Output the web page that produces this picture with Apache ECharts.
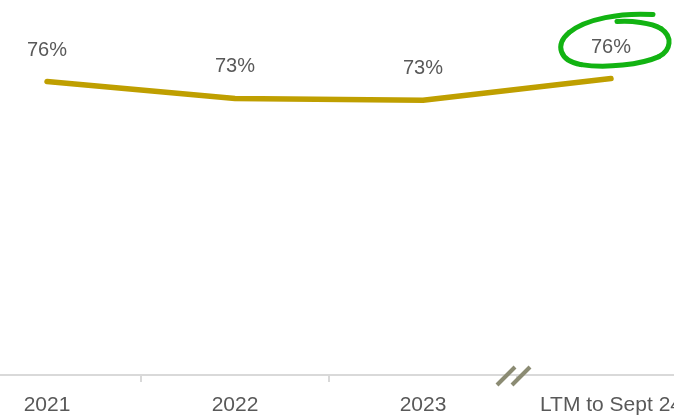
<!DOCTYPE html>
<html>
<head>
<meta charset="utf-8">
<script src="https://cdn.jsdelivr.net/npm/echarts@6/dist/echarts.min.js"></script>
<style>html,body{margin:0;padding:0;background:#fff;overflow:hidden;width:674px;height:415px}#c{position:absolute;left:-47px;top:0;width:752px;height:415px}</style>
</head>
<body>
<div id="c"></div>
<script>
var categories = ['2021', '2022', '2023', 'LTM to Sept 24'];
var values = [75.9, 73.1, 72.8, 76.4];
var yMin = 27;
var yMax = 89.5;

var chart = echarts.init(document.getElementById('c'), null, {renderer: 'canvas'});
var FONT = '"Liberation Sans", Arial, sans-serif';
chart.setOption({
  animation: false,
  grid: {left: 0, right: 0, top: 0, bottom: 40, containLabel: false, outerBoundsMode: 'none'},
  xAxis: {
    type: 'category',
    data: categories,
    boundaryGap: true,
    axisLine: {lineStyle: {color: '#D9D9D9', width: 2}},
    axisTick: {show: true, length: 7, lineStyle: {color: '#D9D9D9', width: 2}},
    axisLabel: {color: '#595959', fontSize: 21, fontFamily: FONT, margin: 20, interval: 0}
  },
  yAxis: {
    type: 'value', min: yMin, max: yMax, show: false,
    splitLine: {show: false}
  },
  series: [{
    type: 'line',
    data: values,
    showSymbol: true,
    symbol: 'circle',
    symbolSize: 1,
    itemStyle: {color: 'rgba(0,0,0,0)'},
    lineStyle: {color: '#BF9F00', width: 5.5, cap: 'round'},
    label: {
      show: true, position: 'top', distance: 21,
      color: '#595959', fontSize: 20, fontFamily: FONT,
      formatter: function (p) { return Math.round(p.value) + '%'; }
    }
  }]
});

// decorations positioned from the chart's own scales
var last = chart.convertToPixel({seriesIndex: 0}, [3, values[3]]);
var p2023 = chart.convertToPixel({seriesIndex: 0}, [2, values[2]]);
var bx = (p2023[0] + last[0]) / 2;
var by = chart.convertToPixel({yAxisIndex: 0}, yMin);
var ringStyle = {fill: null, stroke: '#12B312', lineWidth: 5, lineCap: 'round'};
function seg(x1, y1, c1x, c1y, c2x, c2y, x2, y2) {
  return {type: 'bezierCurve', x: last[0], y: last[1], z: 100,
    shape: {x1: x1, y1: y1, cpx1: c1x, cpy1: c1y, cpx2: c2x, cpy2: c2y, x2: x2, y2: y2},
    style: ringStyle};
}
chart.setOption({
  graphic: [
    seg(42, -64, 10, -66, -25, -60, -42, -46),
    seg(-42, -46, -56, -34, -52, -18, -30, -14),
    seg(-30, -14, -5, -10, 30, -14, 48, -22),
    seg(48, -22, 60, -28, 62, -42, 50, -50),
    seg(50, -50, 40, -56, 20, -58, 6, -57),
    {
      type: 'line', x: bx, y: by, z: 100,
      shape: {x1: -20, y1: 10, x2: -2, y2: -8},
      style: {stroke: '#8B8B73', lineWidth: 4}
    },
    {
      type: 'line', x: bx, y: by, z: 100,
      shape: {x1: -5, y1: 10, x2: 13, y2: -8},
      style: {stroke: '#8B8B73', lineWidth: 4}
    }
  ]
});
</script>
</body>
</html>
